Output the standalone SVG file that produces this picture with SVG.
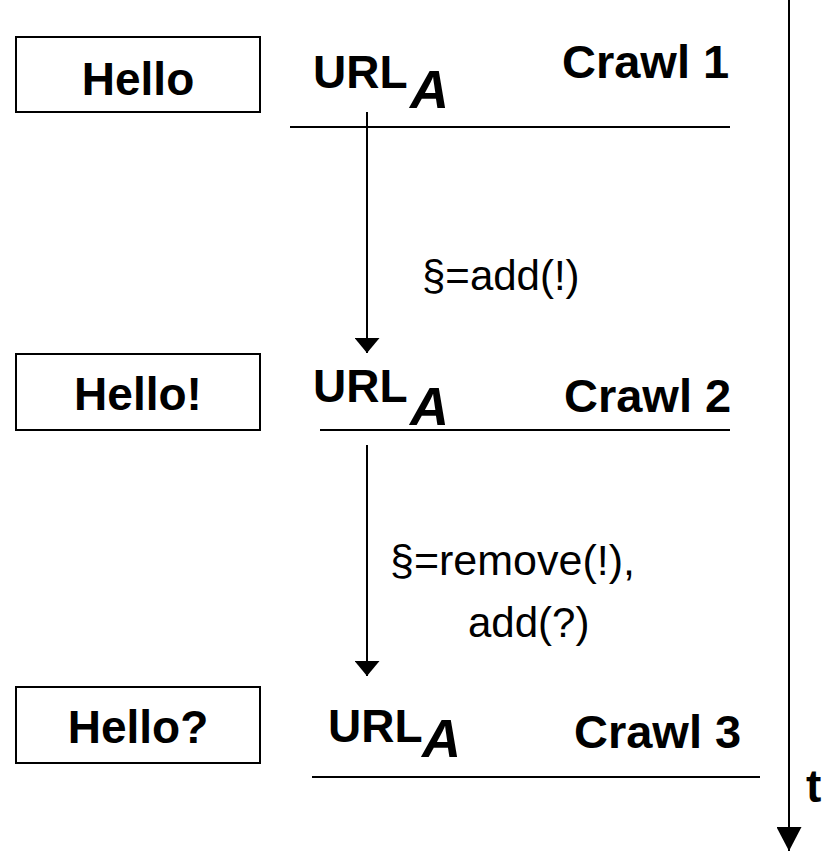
<svg xmlns="http://www.w3.org/2000/svg" width="834" height="852" viewBox="0 0 834 852">
<defs>
<style>
.box{fill:#fff;stroke:#000;stroke-width:2}
.b{font-family:"Liberation Sans",Arial,sans-serif;font-weight:bold;font-size:46px;fill:#000}
.c{font-family:"Liberation Sans",Arial,sans-serif;font-weight:bold;font-size:47px;fill:#000}
.a{font-family:"Liberation Sans",Arial,sans-serif;font-weight:bold;font-style:italic;font-size:54px;fill:#000}
.r{font-family:"Liberation Sans",Arial,sans-serif;font-size:42px;fill:#000}
.ln{stroke:#000;stroke-width:2;fill:none}
</style>
<marker id="ah" viewBox="0 0 15 25" refX="15" refY="12.5" markerWidth="15" markerHeight="25" markerUnits="userSpaceOnUse" orient="auto">
<path d="M0,0 L15,12.5 L0,25 Z" fill="#000"/>
</marker>
<marker id="ah2" viewBox="0 0 24 25" refX="24" refY="12.5" markerWidth="24" markerHeight="25" markerUnits="userSpaceOnUse" orient="auto">
<path d="M0,0 L24,12.5 L0,25 Z" fill="#000"/>
</marker>
</defs>
<g id="crawl1">
<rect class="box" x="16" y="37" width="244" height="75"/>
<text class="b" x="138" y="95" text-anchor="middle">Hello</text>
<text class="b" x="313" y="88">URL</text>
<text class="a" x="410" y="108">A</text>
<text class="c" x="562" y="78">Crawl 1</text>
<line class="ln" x1="290" y1="127" x2="730" y2="127"/>
</g>
<g id="crawl2">
<rect class="box" x="16" y="354" width="244" height="76"/>
<text class="b" x="138" y="410" text-anchor="middle">Hello!</text>
<text class="b" x="313" y="402">URL</text>
<text class="a" x="410" y="425">A</text>
<text class="c" x="564" y="412">Crawl 2</text>
<line class="ln" x1="320" y1="430" x2="730" y2="430"/>
</g>
<g id="crawl3">
<rect class="box" x="16" y="687" width="244" height="76"/>
<text class="b" x="138" y="743" text-anchor="middle">Hello?</text>
<text class="b" x="328" y="742">URL</text>
<text class="a" x="422" y="757">A</text>
<text class="c" x="574" y="748">Crawl 3</text>
<line class="ln" x1="312" y1="777" x2="760" y2="777"/>
</g>
<g id="connectors">
<line class="ln" x1="367" y1="112" x2="367" y2="353" marker-end="url(#ah)"/>
<text class="r" x="422" y="290">§=add(!)</text>
<line class="ln" x1="367" y1="445" x2="367" y2="676" marker-end="url(#ah)"/>
<text class="r" x="390" y="575" style="font-size:43px">§=remove(!),</text>
<text class="r" x="468" y="637">add(?)</text>
<line class="ln" x1="789" y1="0" x2="789" y2="851" marker-end="url(#ah2)"/>
<text class="b" x="806" y="802">t</text>
</g>
</svg>
